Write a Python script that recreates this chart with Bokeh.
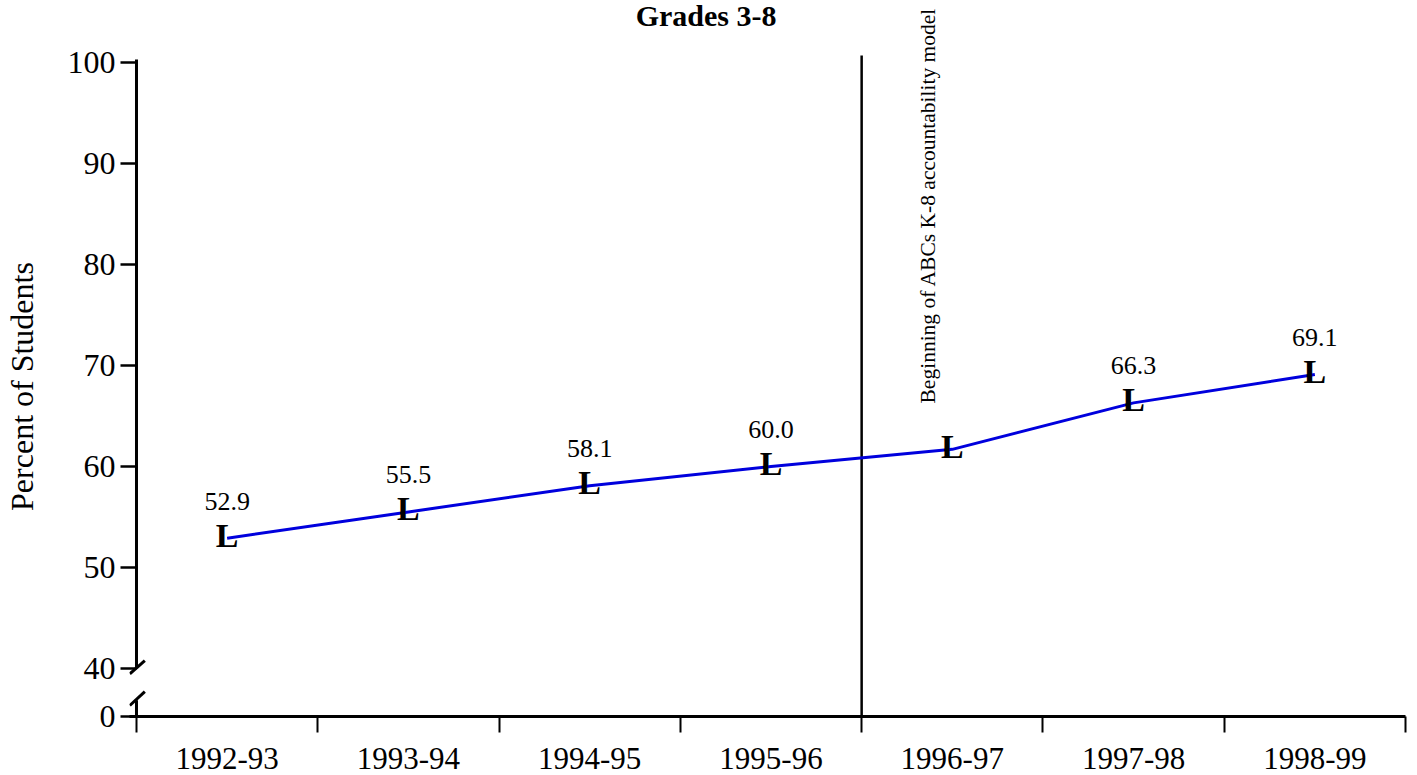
from bokeh.plotting import figure
from bokeh.models import Range1d, FixedTicker, Label, ColumnDataSource
from bokeh.core.properties import value
from bokeh.embed import file_html
from bokeh.resources import INLINE

# ---- data ----
years = ["1992-93", "1993-94", "1994-95", "1995-96", "1996-97", "1997-98", "1998-99"]
percent = [52.9, 55.5, 58.1, 60.0, 61.7, 66.3, 69.1]
point_labels = ["52.9", "55.5", "58.1", "60.0", "", "66.3", "69.1"]
y_ticks = [40, 50, 60, 70, 80, 90, 100]
zero_label = "0"
title_text = "Grades 3-8"
y_title = "Percent of Students"
event_text = "Beginning of ABCs K-8 accountability model"
event_index = 4  # boundary before 1996-97

FONT = "Liberation Serif"
PX = 10.1                    # pixels per percentage point
Y_ZERO = 40 - 48 / PX        # position on the broken axis that shows "0"
Y_TOP = 100 + 62 / PX        # frame reaches top of the canvas
X_START = -7 / 181.4

centers = [i + 0.5 for i in range(len(years))]

p = figure(width=1417, height=775, output_backend="svg", toolbar_location=None,
           x_range=Range1d(X_START, len(years)), y_range=Range1d(Y_ZERO, Y_TOP),
           min_border_left=128, min_border_right=12, min_border_top=0, min_border_bottom=59)
p.outline_line_color = None
p.xgrid.visible = False
p.ygrid.visible = False
p.background_fill_color = "white"

# x axis: labels at centres, ticks at boundaries (minor)
xa = p.xaxis[0]
xa.ticker = FixedTicker(ticks=centers, minor_ticks=list(range(len(years) + 1)))
xa.major_label_overrides = {c: y for c, y in zip(centers, years)}
xa.major_tick_line_color = None
xa.major_tick_out = 0
xa.major_tick_in = 0
xa.minor_tick_out = 16
xa.minor_tick_in = 0
xa.minor_tick_line_color = "black"
xa.minor_tick_line_width = 2
xa.axis_line_width = 3
xa.axis_line_color = "black"
xa.major_label_standoff = 15
xa.major_label_text_font = FONT
xa.major_label_text_font_size = "31px"
xa.major_label_text_color = "black"

# y axis (broken): axis line drawn manually
ya = p.yaxis[0]
ya.ticker = FixedTicker(ticks=[Y_ZERO] + y_ticks, minor_ticks=[])
ya.major_label_overrides = {Y_ZERO: zero_label}
ya.axis_line_color = None
ya.major_tick_out = 9
ya.major_tick_in = 7
ya.major_tick_line_width = 2.5
ya.major_tick_line_color = "black"
ya.major_label_standoff = 5
ya.major_label_text_font = FONT
ya.major_label_text_font_size = "32px"
ya.major_label_text_color = "black"
# trailing no-break spaces centre the title on the plotted region (40..100 part lower down)
ya.axis_label = y_title + "\u00a0" * 7
ya.axis_label_text_font = FONT
ya.axis_label_text_font_size = "32px"
ya.axis_label_text_font_style = "normal"
ya.axis_label_text_color = "black"
ya.axis_label_standoff = 25

# axis line segments + break marks
p.segment(x0=[0, 0], y0=[Y_ZERO, y_ticks[0]], x1=[0, 0], y1=[Y_ZERO + 1.6, y_ticks[-1] + 0.3],
          line_color="black", line_width=3)
p.segment(x0=[-0.037, -0.037], y0=[y_ticks[0] - 0.52, Y_ZERO + 1.09],
          x1=[0.046, 0.046], y1=[y_ticks[0] + 0.79, Y_ZERO + 2.47],
          line_color="black", line_width=3)

# event line
p.segment(x0=[event_index], y0=[Y_ZERO], x1=[event_index], y1=[y_ticks[-1] + 0.7],
          line_color="black", line_width=2.5)
p.add_layout(Label(x=event_index + 0.367, y=66.24, text=event_text, angle=1.5707963,
                   text_align="left", text_baseline="middle", text_font=FONT,
                   text_font_size="21.5px", text_color="black"))

# data line and markers
src = ColumnDataSource(dict(x=centers, y=percent, lab=point_labels, m=["L"] * len(years)))
p.line("x", "y", source=src, line_color="#0000dd", line_width=3)
p.text("x", "y", text="m", source=src, text_font=value(FONT), text_font_style="bold",
       text_font_size="34px", text_align="center", text_baseline="middle",
       text_color="black", y_offset=-3)
p.text("x", "y", text="lab", source=src, text_font=value(FONT), text_font_size="26px",
       text_align="center", text_baseline="middle", text_color="black", y_offset=-37)

# title
p.add_layout(Label(x=3.142, y=100 + 47 / PX, text=title_text, text_align="center",
                   text_baseline="middle", text_font=FONT, text_font_style="bold",
                   text_font_size="30px", text_color="black"))

open("out.html", "w").write(file_html(p, INLINE))
